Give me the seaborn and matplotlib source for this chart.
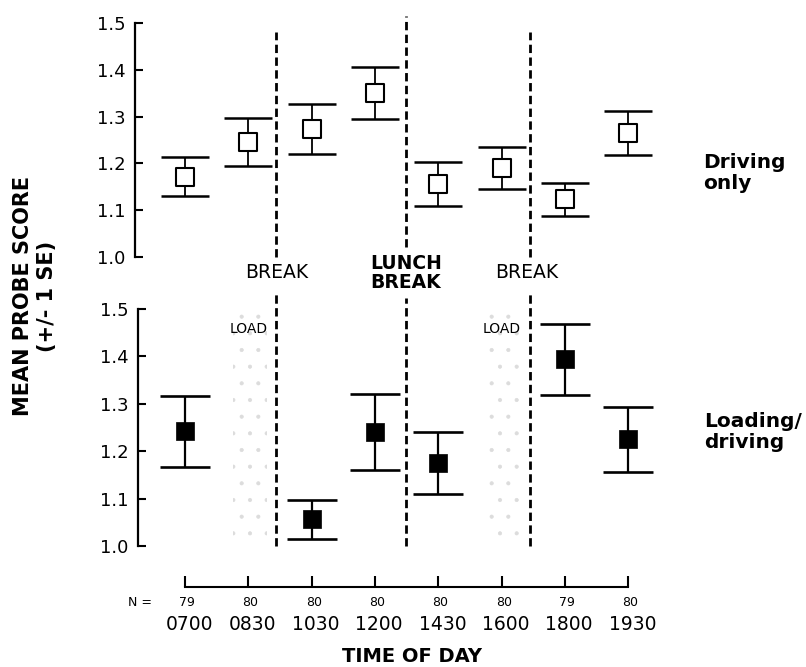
import matplotlib
matplotlib.use("Agg")
import matplotlib.pyplot as plt
import matplotlib.transforms as mtransforms
import seaborn as sns
import pandas as pd

# ---- data -------------------------------------------------------------
times = ["0700", "0830", "1030", "1200", "1430", "1600", "1800", "1930"]
n_subjects = ["79", "80", "80", "80", "80", "80", "79", "80"]

# driving only (all eight sessions)
driving_mean = [1.172, 1.246, 1.274, 1.351, 1.156, 1.191, 1.123, 1.264]
driving_se = [0.042, 0.052, 0.053, 0.056, 0.046, 0.045, 0.036, 0.047]

# loading/driving (no probe during the loading sessions)
loading_times = ["0700", "1030", "1200", "1430", "1800", "1930"]
loading_mean = [1.242, 1.056, 1.240, 1.175, 1.394, 1.225]
loading_se = [0.075, 0.041, 0.080, 0.066, 0.075, 0.069]

y_ticks = [1.0, 1.1, 1.2, 1.3, 1.4, 1.5]
break_labels = ["BREAK", "LUNCH\nBREAK", "BREAK"]
load_times = ["0830", "1600"]

# ---- frames -----------------------------------------------------------
pos = {t: i for i, t in enumerate(times)}
df_drive = pd.DataFrame({"pos": [pos[t] for t in times],
                         "mean": driving_mean, "se": driving_se})
df_load = pd.DataFrame({"pos": [pos[t] for t in loading_times],
                        "mean": loading_mean, "se": loading_se})

sns.set_theme(style="white", rc={"text.color": "black",
                                 "axes.labelcolor": "black",
                                 "xtick.color": "black",
                                 "ytick.color": "black",
                                 "axes.edgecolor": "black",
                                 "hatch.linewidth": 0.5})
plt.rcParams["font.family"] = ["DejaVu Sans"]

W, H = 806, 667
fig = plt.figure(figsize=(W / 100, H / 100), dpi=100)

ax_top = fig.add_axes([135 / W, 1 - 257 / H, 525 / W, 234 / H])
ax_bot = fig.add_axes([138 / W, 1 - 546 / H, 522 / W, 237 / H])
ax_time = fig.add_axes([135 / W, 1 - 587 / H, 525 / W, 0.001])

ax_top.set_xlim(-0.79, 7.5)
ax_bot.set_xlim(-0.742, 7.5)
ax_time.set_xlim(-0.79, 7.5)

# break boundaries, in session-position units
break_pos = [1.44, 3.49, 5.45]
dash = (0, (3.0, 1.6))


def style_panel(ax):
    ax.set_ylim(1.0, 1.5)
    ax.set_yticks(y_ticks)
    ax.set_yticklabels([f"{v:.1f}" for v in y_ticks])
    for side in ["top", "right", "bottom"]:
        ax.spines[side].set_visible(False)
    ax.spines["left"].set_linewidth(1.6)
    ax.spines["left"].set_color("black")
    ax.set_xticks([])
    ax.tick_params(axis="y", direction="in", length=6, width=1.5,
                   pad=7, labelsize=13, colors="black", left=True)
    ax.set_xlabel("")
    ax.set_ylabel("")
    ax.patch.set_alpha(0)


# faint stipple marking the loading sessions
for t in load_times:
    ax_bot.axvspan(pos[t] - 0.24, pos[t] + 0.29, ymin=0.0, ymax=1.0,
                   facecolor="none", edgecolor="#dcdcdc", hatch=".",
                   linewidth=0, zorder=0)

# driving only panel
ax_top.errorbar(df_drive["pos"], df_drive["mean"], yerr=df_drive["se"],
                fmt="none", ecolor="black", elinewidth=1.3, capsize=17.5,
                capthick=1.8, zorder=2)
sns.scatterplot(data=df_drive, x="pos", y="mean", marker="s", s=12.5 ** 2,
                color="white", edgecolor="black", linewidth=1.5,
                zorder=3, legend=False, ax=ax_top)

# loading/driving panel
ax_bot.errorbar(df_load["pos"], df_load["mean"], yerr=df_load["se"],
                fmt="none", ecolor="black", elinewidth=1.6, capsize=18,
                capthick=1.9, zorder=2)
sns.scatterplot(data=df_load, x="pos", y="mean", marker="s", s=13.5 ** 2,
                color="black", edgecolor="black", linewidth=0.5,
                zorder=3, legend=False, ax=ax_bot)

style_panel(ax_top)
style_panel(ax_bot)

# dashed break lines
top_span = [(0.0, 0.962), (0.043, 1.032), (0.0, 0.962)]
bot_span = [(0.0, 1.068), (0.0, 1.046), (0.0, 1.072)]
for x, (a, b), (c, d) in zip(break_pos, top_span, bot_span):
    ax_top.axvline(x, ymin=a, ymax=b, color="black", lw=2.0,
                   linestyle=dash, clip_on=False, zorder=1)
    ax_bot.axvline(x, ymin=c, ymax=d, color="black", lw=2.0,
                   linestyle=dash, clip_on=False, zorder=1)

# break labels between the panels
tr = mtransforms.blended_transform_factory(ax_top.transData, fig.transFigure)
fig.text(break_pos[0], 1 - 272 / H, break_labels[0], transform=tr,
         ha="center", va="center", fontsize=13.5)
fig.text(break_pos[1], 1 - 273 / H, break_labels[1], transform=tr,
         ha="center", va="center", fontsize=13.5, fontweight="bold",
         linespacing=1.05)
fig.text(break_pos[2] - 0.06, 1 - 272 / H, break_labels[2], transform=tr,
         ha="center", va="center", fontsize=13.5)

trb = mtransforms.blended_transform_factory(ax_bot.transData, fig.transFigure)
for t in load_times:
    fig.text(pos[t], 1 - 329 / H, "LOAD", transform=trb,
             ha="center", va="center", fontsize=10)

# time-of-day axis
for side in ["top", "right", "left"]:
    ax_time.spines[side].set_visible(False)
ax_time.spines["bottom"].set_bounds(0, len(times) - 1)
ax_time.spines["bottom"].set_linewidth(1.5)
ax_time.spines["bottom"].set_color("black")
ax_time.set_yticks([])
ax_time.set_xticks(range(len(times)))
ax_time.set_xticklabels([])
ax_time.tick_params(axis="x", direction="in", length=8, width=1.5,
                    colors="black", bottom=True)
ax_time.patch.set_alpha(0)
for i, (t, n) in enumerate(zip(times, n_subjects)):
    ax_time.annotate(n, xy=(i, 0), xycoords=("data", "axes fraction"),
                     xytext=(1.5, -11.5), textcoords="offset points",
                     ha="center", va="center", fontsize=9)
    ax_time.annotate(t, xy=(i, 0), xycoords=("data", "axes fraction"),
                     xytext=(3, -27), textcoords="offset points",
                     ha="center", va="center", fontsize=13.5)
fig.text(140 / W, 1 - 602 / H, "N =", ha="center", va="center", fontsize=9)
fig.text(412 / W, 1 - 656 / H, "TIME OF DAY", ha="center", va="center",
         fontsize=14, fontweight="bold")

# axis title and panel names
fig.text(35 / W, 1 - 296 / H, "MEAN PROBE SCORE\n(+/- 1 SE)", rotation=90,
         ha="center", va="center", fontsize=15, fontweight="bold",
         multialignment="center", linespacing=1.3)
fig.text(703 / W, 1 - 173 / H, "Driving\nonly", ha="left", va="center",
         fontsize=14.5, fontweight="bold", linespacing=1.15)
fig.text(704 / W, 1 - 432 / H, "Loading/\ndriving", ha="left", va="center",
         fontsize=14.5, fontweight="bold", linespacing=1.15)

fig.savefig("out.png", dpi=100, facecolor="white")
